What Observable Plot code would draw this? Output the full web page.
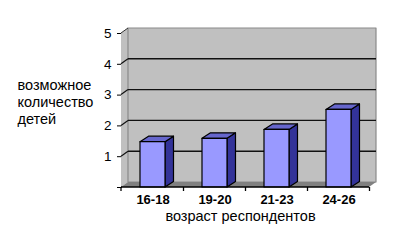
<!DOCTYPE html>
<html>
<head>
<meta charset="utf-8">
<script src="https://cdn.jsdelivr.net/npm/d3@7"></script>
<script src="https://cdn.jsdelivr.net/npm/@observablehq/plot@0.6"></script>
<style>
  html, body { margin: 0; padding: 0; background: #fff; }
</style>
</head>
<body>
<div id="chart"></div>
<script>
const categories = ["16-18", "19-20", "21-23", "24-26"];
const values = [1.47, 1.58, 1.87, 2.52];
const yTicks = [0, 1, 2, 3, 4, 5];
const yLabel = "возможное\nколичество\nдетей";
const xLabel = "возраст респондентов";

const data = categories.map((c, i) => ({category: c, value: values[i]}));

// oblique 3D offsets (depth) for the walls and the bars
const WALL = {dx: 7, dy: -5};
const BAR = {dx: 8.5, dy: -5.5};

function frame3d(index, scales, vals, dim) {
  const ns = "http://www.w3.org/2000/svg";
  const g = document.createElementNS(ns, "g");
  const x0 = dim.marginLeft, x1 = dim.width - dim.marginRight;
  const y = scales.y;
  const yb = y(0), yt = y(5);
  const poly = (pts, fill, stroke, sw) => {
    const p = document.createElementNS(ns, "polygon");
    p.setAttribute("points", pts.map(d => d.join(",")).join(" "));
    p.setAttribute("fill", fill);
    if (stroke) { p.setAttribute("stroke", stroke); p.setAttribute("stroke-width", sw || 1); p.setAttribute("stroke-linejoin", "round"); }
    g.appendChild(p);
  };
  const line = (a, b, stroke, sw) => {
    const l = document.createElementNS(ns, "line");
    l.setAttribute("x1", a[0]); l.setAttribute("y1", a[1]);
    l.setAttribute("x2", b[0]); l.setAttribute("y2", b[1]);
    l.setAttribute("stroke", stroke); l.setAttribute("stroke-width", sw || 1);
    g.appendChild(l);
  };
  const {dx, dy} = WALL;
  // side wall
  poly([[x0, yb], [x0 + dx, yb + dy], [x0 + dx, yt + dy], [x0, yt]], "#c0c0c0");
  // back wall
  poly([[x0 + dx, yt + dy], [x1 + dx, yt + dy], [x1 + dx, yb + dy], [x0 + dx, yb + dy]], "#c0c0c0", "#8a8a8a", 1.2);
  // gridlines
  yTicks.filter(v => v > 0 && v < 5).forEach(v => {
    line([x0 + dx, y(v) + dy], [x1 + dx, y(v) + dy], "#111", 1.4);
    line([x0, y(v)], [x0 + dx, y(v) + dy], "#111", 1.2);
  });
  line([x0, yt], [x0 + dx, yt + dy], "#333", 1);
  // floor
  poly([[x0, yb], [x1, yb], [x1 + dx, yb + dy], [x0 + dx, yb + dy]], "#808080");
  return g;
}

function bars3d(index, scales, vals, dim) {
  const ns = "http://www.w3.org/2000/svg";
  const g = document.createElementNS(ns, "g");
  const x = scales.x, y = scales.y;
  const bw = x.bandwidth();
  const yb = y(0);
  const {dx, dy} = BAR;
  const poly = (pts, fill) => {
    const p = document.createElementNS(ns, "polygon");
    p.setAttribute("points", pts.map(d => d.join(",")).join(" "));
    p.setAttribute("fill", fill);
    p.setAttribute("stroke", "#000");
    p.setAttribute("stroke-width", 1.2);
    p.setAttribute("stroke-linejoin", "round");
    g.appendChild(p);
  };
  data.forEach(d => {
    const xl = x(d.category), xr = xl + bw, yt = y(d.value);
    poly([[xr, yb], [xr + dx, yb + dy], [xr + dx, yt + dy], [xr, yt]], "#333399");
    poly([[xl, yt], [xl + dx, yt + dy], [xr + dx, yt + dy], [xr, yt]], "#6666cc");
    poly([[xl, yb], [xr, yb], [xr, yt], [xl, yt]], "#9999ff");
  });
  return g;
}

function axes3d(index, scales, vals, dim) {
  const ns = "http://www.w3.org/2000/svg";
  const g = document.createElementNS(ns, "g");
  const x = scales.x, y = scales.y;
  const x0 = dim.marginLeft, x1 = dim.width - dim.marginRight;
  const yb = y(0);
  const line = (a, b) => {
    const l = document.createElementNS(ns, "line");
    l.setAttribute("x1", a[0]); l.setAttribute("y1", a[1]);
    l.setAttribute("x2", b[0]); l.setAttribute("y2", b[1]);
    l.setAttribute("stroke", "#000"); l.setAttribute("stroke-width", 1.3);
    g.appendChild(l);
  };
  line([x0, yb], [x1, yb]);
  const step = x.step();
  const pad = (step - x.bandwidth()) / 2;
  categories.forEach(c => {
    const bx = x(c) - pad + step;
    line([bx, yb], [bx, yb + 4]);
  });
  line([x0, yb], [x0, yb + 4]);
  return g;
}

const chart = Plot.plot({
  width: 419,
  height: 240,
  marginLeft: 121,
  marginRight: 50,
  marginTop: 33,
  marginBottom: 53,
  style: {fontFamily: "'Liberation Sans', Arial, sans-serif", fontSize: "13.5px", color: "#000", background: "transparent"},
  x: {type: "band", domain: categories, paddingInner: 0.6, paddingOuter: 0.3, axis: null},
  y: {domain: [0, 5], ticks: yTicks, tickSize: 4, tickPadding: 6, line: true, label: null,
      tickFormat: d => d === 0 ? "" : String(d)},
  marks: [
    frame3d,
    bars3d,
    axes3d,
    Plot.text(categories, {x: d => d, frameAnchor: "bottom", dy: 16, fontWeight: "bold", fontSize: 13}),
    Plot.text([xLabel], {frameAnchor: "bottom", dy: 33, dx: -5, fontSize: 14.5}),
    Plot.text([yLabel], {frameAnchor: "left", dx: -104, dy: -9, textAnchor: "start", fontSize: 14.5, lineHeight: 1.17})
  ]
});
document.getElementById("chart").appendChild(chart);
</script>
</body>
</html>
